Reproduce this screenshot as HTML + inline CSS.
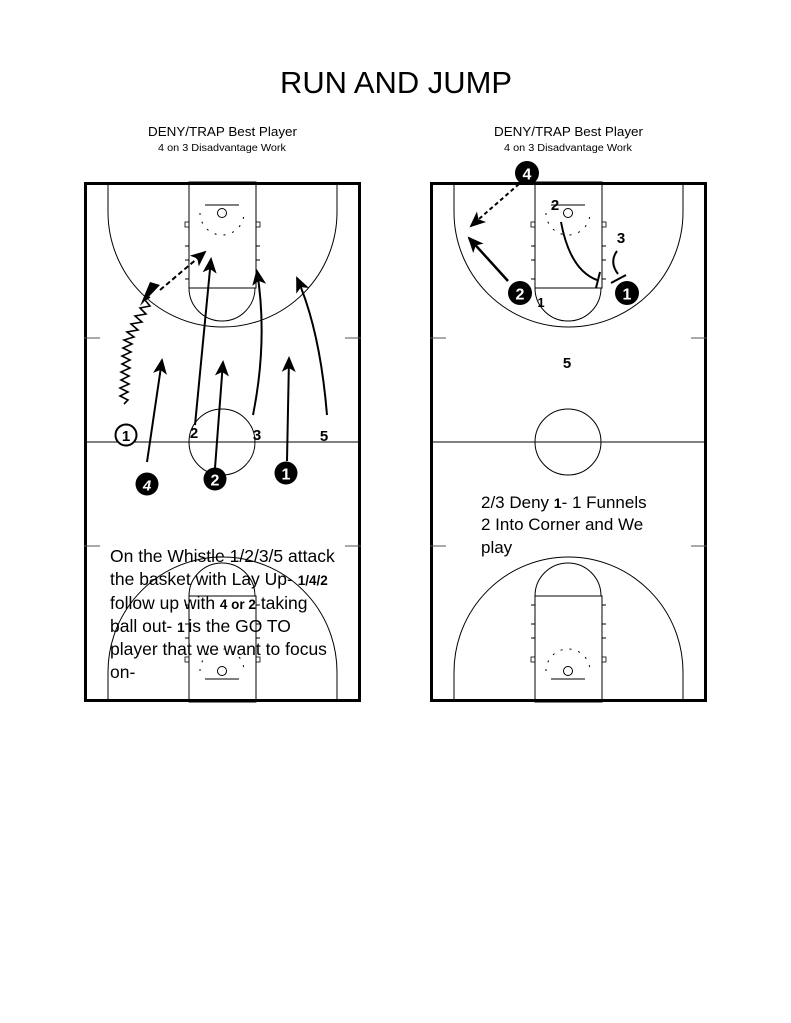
<!DOCTYPE html>
<html><head><meta charset="utf-8"><style>
html,body{margin:0;padding:0;background:#fff;}
svg{display:block;}
text,tspan{font-family:"Liberation Sans",Arial,Helvetica,sans-serif;}
</style></head><body>
<svg width="791" height="1023" viewBox="0 0 791 1023" xmlns="http://www.w3.org/2000/svg" font-family="Liberation Sans, Arial, sans-serif">
<defs>
<marker id="ahb" markerWidth="16" markerHeight="16" refX="14" refY="8" orient="auto" markerUnits="userSpaceOnUse" viewBox="0 0 16 16">
<path d="M0,1 L16,8 L0,15 L4,8 z" fill="#000"/></marker>
<g id="half">
<rect x="189" y="182" width="67" height="106" fill="none" stroke="#000" stroke-width="1"/>
<path d="M189,288 A33,33 0 0 0 255,288" fill="none" stroke="#000" stroke-width="1"/>
<path d="M108,182 L108,212 A114.5,115 0 0 0 337,212 L337,182" fill="none" stroke="#000" stroke-width="1"/>
<line x1="205" y1="205" x2="239" y2="205" stroke="#555" stroke-width="1.5"/>
<circle cx="222" cy="213" r="4.5" fill="none" stroke="#000" stroke-width="1"/>
<path d="M200,213 A22,22 0 0 0 244,213" fill="none" stroke="#000" stroke-width="1" stroke-dasharray="2,7"/>
<rect x="185" y="222" width="4" height="5" fill="none" stroke="#000" stroke-width="0.8"/>
<rect x="256" y="222" width="4" height="5" fill="none" stroke="#000" stroke-width="0.8"/>
<path d="M185,246h4M185,260h4M185,279h4M256,246h4M256,260h4M256,279h4" stroke="#000" stroke-width="1"/>
</g>
</defs>

<text x="280" y="93" font-size="31" textLength="232" lengthAdjust="spacingAndGlyphs">RUN AND JUMP</text>
<text x="148" y="136" font-size="13" textLength="149" lengthAdjust="spacingAndGlyphs">DENY/TRAP Best Player</text>
<text x="158" y="151" font-size="10.5" textLength="128" lengthAdjust="spacingAndGlyphs">4 on 3 Disadvantage Work</text>
<text x="494" y="136" font-size="13" textLength="149" lengthAdjust="spacingAndGlyphs">DENY/TRAP Best Player</text>
<text x="504" y="151" font-size="10.5" textLength="128" lengthAdjust="spacingAndGlyphs">4 on 3 Disadvantage Work</text>

<g>
<rect x="85.5" y="183.5" width="274" height="517" fill="none" stroke="#000" stroke-width="3"/>
<use href="#half"/>
<use href="#half" transform="translate(0,884) scale(1,-1)"/>
<line x1="84" y1="442" x2="361" y2="442" stroke="#000" stroke-width="1"/>
<circle cx="222" cy="442" r="33" fill="none" stroke="#000" stroke-width="1"/>
<path d="M84,338h16M345,338h16M84,546h16M345,546h16" stroke="#555" stroke-width="1"/>
</g>

<g transform="translate(346,0)">
<rect x="85.5" y="183.5" width="274" height="517" fill="none" stroke="#000" stroke-width="3"/>
<use href="#half"/>
<use href="#half" transform="translate(0,884) scale(1,-1)"/>
<line x1="84" y1="442" x2="361" y2="442" stroke="#000" stroke-width="1"/>
<circle cx="222" cy="442" r="33" fill="none" stroke="#000" stroke-width="1"/>
<path d="M84,338h16M345,338h16M84,546h16M345,546h16" stroke="#555" stroke-width="1"/>
</g>

<polyline points="124,404 128,400 120,396 128,392 120,388 129,384 121,380 129,376 121,372 130,368 122,364 130,360 122,356 131,352 123,348 132,344 124,340 134,337 127,332 138,330 131,324 142,322 135,316 146,314 140,308 150,306 145,300 150,297" fill="none" stroke="#000" stroke-width="1.6"/>
<path d="M140,306 L160,285 L150,282 z" fill="#000"/>
<line x1="160" y1="290" x2="205" y2="252" stroke="#000" stroke-width="2" stroke-dasharray="5,3" marker-end="url(#ahb)"/>
<line x1="147" y1="462" x2="162" y2="360" stroke="#000" stroke-width="2" marker-end="url(#ahb)"/>
<line x1="195" y1="425" x2="211" y2="259" stroke="#000" stroke-width="2" marker-end="url(#ahb)"/>
<line x1="215" y1="468" x2="223" y2="362" stroke="#000" stroke-width="2" marker-end="url(#ahb)"/>
<path d="M253,415 Q268,340 257,271" fill="none" stroke="#000" stroke-width="2" marker-end="url(#ahb)"/>
<line x1="287" y1="461" x2="289" y2="358" stroke="#000" stroke-width="2" marker-end="url(#ahb)"/>
<path d="M327,415 Q320,330 297,278" fill="none" stroke="#000" stroke-width="2" marker-end="url(#ahb)"/>

<circle cx="126" cy="435" r="10.5" fill="#fff" stroke="#000" stroke-width="2"/>
<text x="126" y="441" font-size="15" text-anchor="middle" font-weight="bold">1</text>
<text x="194" y="438" font-size="15" text-anchor="middle" font-weight="bold">2</text>
<text x="257" y="440" font-size="15" text-anchor="middle" font-weight="bold">3</text>
<text x="324" y="441" font-size="15" text-anchor="middle" font-weight="bold">5</text>
<circle cx="147" cy="484" r="11.5" fill="#000"/>
<text x="147" y="490.5" font-size="15" text-anchor="middle" font-weight="bold" font-style="italic" fill="#fff">4</text>
<circle cx="215" cy="479" r="11.5" fill="#000"/>
<text x="215" y="485.5" font-size="16" text-anchor="middle" font-weight="bold" fill="#fff">2</text>
<circle cx="286" cy="473" r="11.5" fill="#000"/>
<text x="286" y="479.5" font-size="16" text-anchor="middle" font-weight="bold" fill="#fff">1</text>

<text font-size="17.5" x="110">
<tspan x="110" y="562">On the Whistle 1/2/3/5 attack</tspan>
<tspan x="110" y="585">the basket with Lay Up- <tspan font-weight="bold" font-size="13.5">1/4/2</tspan></tspan>
<tspan x="110" y="609">follow up with <tspan font-weight="bold" font-size="13.5">4 or 2</tspan> taking</tspan>
<tspan x="110" y="632">ball out- <tspan font-weight="bold" font-size="13.5">1 </tspan>is the GO TO</tspan>
<tspan x="110" y="655">player that we want to focus</tspan>
<tspan x="110" y="678">on-</tspan>
</text>

<line x1="519" y1="184" x2="471" y2="226" stroke="#000" stroke-width="2" stroke-dasharray="4,3" marker-end="url(#ahb)"/>
<line x1="508" y1="281" x2="469" y2="238" stroke="#000" stroke-width="2.5" marker-end="url(#ahb)"/>
<path d="M561,222 Q570,270 597,280" fill="none" stroke="#000" stroke-width="2"/>
<line x1="600" y1="272" x2="596" y2="288" stroke="#000" stroke-width="2"/>
<path d="M617,251 Q609,262 618,274" fill="none" stroke="#000" stroke-width="2"/>
<line x1="611" y1="283" x2="626" y2="275" stroke="#000" stroke-width="2"/>

<circle cx="527" cy="173" r="12" fill="#000"/>
<text x="527" y="179.5" font-size="16" text-anchor="middle" font-weight="bold" fill="#fff">4</text>
<circle cx="520" cy="293" r="12" fill="#000"/>
<text x="520" y="299.5" font-size="16" text-anchor="middle" font-weight="bold" fill="#fff">2</text>
<circle cx="627" cy="293" r="12" fill="#000"/>
<text x="627" y="299.5" font-size="16" text-anchor="middle" font-weight="bold" fill="#fff">1</text>
<text x="555" y="210" font-size="15" text-anchor="middle" font-weight="bold">2</text>
<text x="621" y="243" font-size="15" text-anchor="middle" font-weight="bold">3</text>
<text x="541" y="307" font-size="13" text-anchor="middle" font-weight="bold">1</text>
<text x="567" y="368" font-size="15" text-anchor="middle" font-weight="bold">5</text>

<text font-size="17" x="481">
<tspan x="481" y="508">2/3 Deny <tspan font-weight="bold" font-size="14">1</tspan>- 1 Funnels</tspan>
<tspan x="481" y="530">2 Into Corner and We</tspan>
<tspan x="481" y="553">play</tspan>
</text>
</svg>
</body></html>
